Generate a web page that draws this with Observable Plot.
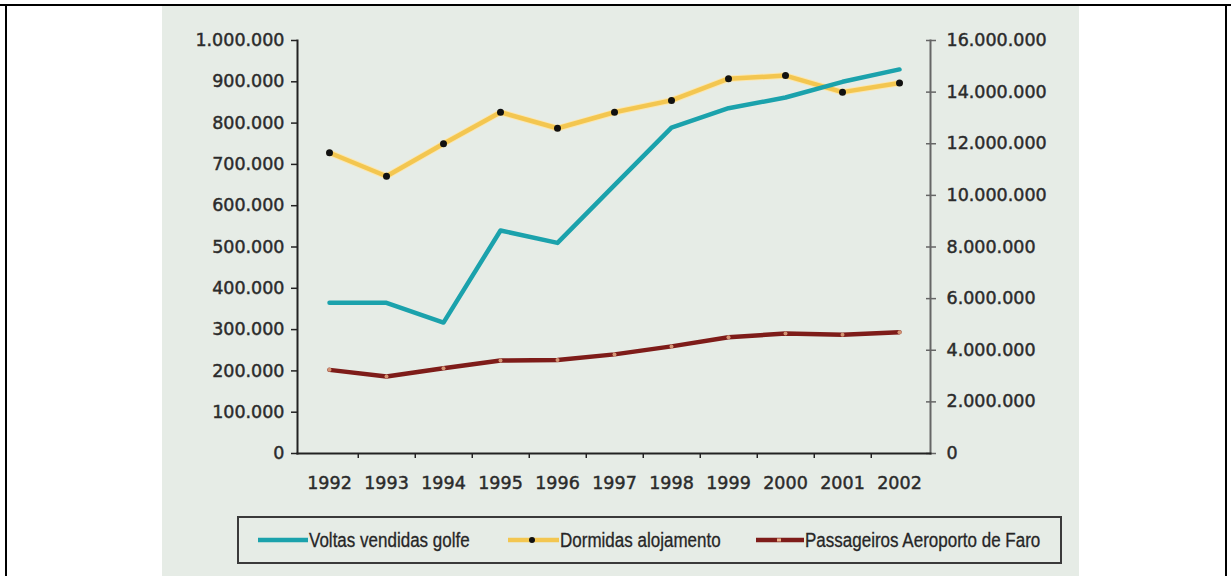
<!DOCTYPE html>
<html>
<head>
<meta charset="utf-8">
<script src="https://cdn.jsdelivr.net/npm/d3@7"></script>
<script src="https://cdn.jsdelivr.net/npm/@observablehq/plot@0.6"></script>
<style>
  html, body { margin: 0; padding: 0; background: #fff; width: 1231px; height: 576px; overflow: hidden; }
  #topline { position: absolute; left: 0; top: 4px; width: 1231px; height: 2px; background: #000; }
  #lline { position: absolute; left: 5px; top: 4px; width: 2px; height: 580px; background: #000; }
  #rline { position: absolute; left: 1225px; top: 4px; width: 2px; height: 580px; background: #000; }
  #panel { position: absolute; left: 162px; top: 6px; width: 917px; height: 570px; background: #e6ece6; }
  #chart { position: absolute; left: 162px; top: 6px; }
  #chart svg text { stroke: #2b2b2b; stroke-width: 0.45px; }
  #legend { position: absolute; left: 237px; top: 516px; width: 825px; height: 48px; border: 2px solid #3a3a3a; box-sizing: border-box;
            font-family: "Liberation Sans", Arial, sans-serif; font-size: 20px; color: #262626; }
  .item { position: absolute; top: 0; height: 44px; display: flex; align-items: center; white-space: nowrap; }
  .item svg { display: block; }
  .item span { display: inline-block; transform: scaleX(0.85); transform-origin: 0 50%; -webkit-text-stroke: 0.3px #262626; }
</style>
</head>
<body>
<div id="panel"></div>
<div id="topline"></div>
<div id="lline"></div>
<div id="rline"></div>
<div id="chart"></div>
<div id="legend"></div>
<script>
const years = [1992, 1993, 1994, 1995, 1996, 1997, 1998, 1999, 2000, 2001, 2002];
const voltasGolfe = [365000, 365000, 317000, 540000, 510000, 650000, 789000, 836000, 862000, 900000, 930000];
const dormidas = [11650000, 10740000, 12000000, 13220000, 12600000, 13220000, 13680000, 14520000, 14640000, 14000000, 14350000];
const passageiros = [3240000, 2980000, 3300000, 3600000, 3620000, 3840000, 4150000, 4500000, 4650000, 4600000, 4700000];
const leftTicks = [0, 100000, 200000, 300000, 400000, 500000, 600000, 700000, 800000, 900000, 1000000];
const rightTicks = [0, 2000000, 4000000, 6000000, 8000000, 10000000, 12000000, 14000000, 16000000];
const seriesNames = ["Voltas vendidas golfe", "Dormidas alojamento", "Passageiros Aeroporto de Faro"];
const colors = ["#1ba2ac", "#f3c650", "#7e1c19"];

const leftMax = 1000000, rightMax = 16000000, ratio = rightMax / leftMax;
const fmt = d3.formatLocale({decimal: ",", thousands: ".", grouping: [3], currency: ["", ""]}).format(",d");

const golf = years.map((y, i) => ({year: y, v: voltasGolfe[i]}));
const dorm = years.map((y, i) => ({year: y, v: dormidas[i] / ratio}));
const pass = years.map((y, i) => ({year: y, v: passageiros[i] / ratio}));

const W = 917, H = 505, mL = 135, mR = 149;
const step = (W - mL - mR) / years.length;

const chart = Plot.plot({
  width: W, height: H,
  marginLeft: mL, marginRight: mR, marginTop: 34, marginBottom: 58,
  style: {background: "transparent", fontFamily: "DejaVu Sans, sans-serif", fontSize: "17.5px", color: "#2b2b2b"},
  x: {type: "point", domain: years, padding: 0.5},
  y: {domain: [0, leftMax]},
  marks: [
    Plot.axisY({ticks: leftTicks, tickFormat: fmt, tickSize: 6, tickPadding: 7, label: null, stroke: "#222", fill: "#2b2b2b", strokeWidth: 1.5}),
    Plot.axisY({anchor: "right", ticks: rightTicks.map(v => v / ratio), tickFormat: v => fmt(Math.round(v * ratio)), tickSize: 5, tickPadding: 11, label: null, stroke: "#666", fill: "#2b2b2b", strokeWidth: 1.5}),
    Plot.axisY({anchor: "right", ticks: rightTicks.map(v => v / ratio), tickFormat: () => "", tickSize: 5, dx: -5, label: null, stroke: "#666", strokeWidth: 1.5}),
    Plot.axisX({ticks: years.slice(0, -1), tickFormat: () => "", tickSize: 5, dx: step / 2, label: null, stroke: "#222", strokeWidth: 1.5}),
    Plot.axisX({ticks: years, tickFormat: d => String(d), tickSize: 0, tickPadding: 23, label: null, fill: "#2b2b2b"}),
    Plot.frame({anchor: "left", stroke: "#222", strokeWidth: 2}),
    Plot.frame({anchor: "right", stroke: "#666", strokeWidth: 2}),
    Plot.frame({anchor: "bottom", stroke: "#222", strokeWidth: 2}),
    Plot.line(pass, {x: "year", y: "v", stroke: colors[2], strokeWidth: 4.5}),
    Plot.dot(pass, {x: "year", y: "v", r: 2, fill: "#eab38a", fillOpacity: 0.8}),
    Plot.line(dorm, {x: "year", y: "v", stroke: "#fbe7b0", strokeWidth: 6.5}),
    Plot.line(dorm, {x: "year", y: "v", stroke: colors[1], strokeWidth: 4.5}),
    Plot.dot(dorm, {x: "year", y: "v", r: 3.5, fill: "#111"}),
    Plot.line(golf, {x: "year", y: "v", stroke: colors[0], strokeWidth: 4.5})
  ]
});
document.getElementById("chart").appendChild(chart);

// legend
const legend = document.getElementById("legend");
const itemLeft = [18, 268, 516];
const swatches = [
  `<svg width="52" height="10"><line x1="1" x2="51" y1="5" y2="5" stroke="${colors[0]}" stroke-width="4.5"/></svg>`,
  `<svg width="53" height="10"><line x1="1" x2="52" y1="5" y2="5" stroke="${colors[1]}" stroke-width="4.5"/><circle cx="25" cy="5" r="3" fill="#111"/></svg>`,
  `<svg width="50" height="10"><line x1="1" x2="49" y1="5" y2="5" stroke="${colors[2]}" stroke-width="4.5"/><line x1="22" x2="26" y1="5" y2="5" stroke="#eab38a" stroke-width="3"/></svg>`
];
seriesNames.forEach((name, i) => {
  const d = document.createElement("div");
  d.className = "item";
  d.style.left = itemLeft[i] + "px";
  d.innerHTML = swatches[i] + `<span>${name}</span>`;
  legend.appendChild(d);
});
</script>
</body>
</html>
